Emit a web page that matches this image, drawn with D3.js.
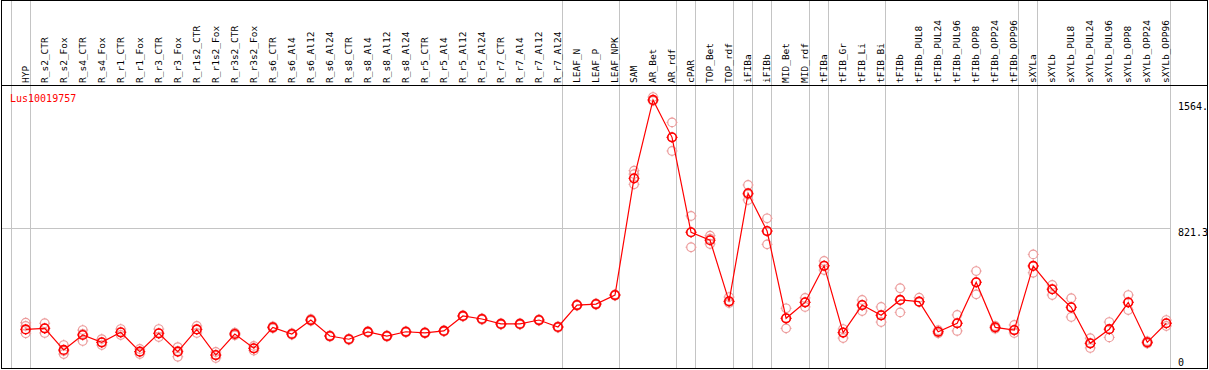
<!DOCTYPE html>
<html lang="en">
  <head>
    <meta charset="UTF-8" />
    <title>Lus10019757</title>
    <script src="https://cdn.jsdelivr.net/npm/d3@7"></script>
    <style>
      body { margin: 0; background: #fff; }
      text { font-family: "DejaVu Sans Mono", monospace; }
    </style>
  </head>
  <body>
    <svg id="chart" width="1209" height="370"></svg>
    <script>
      const categories = ["HYP","R_s2_CTR","R_s2_Fox","R_s4_CTR","R_s4_Fox","R_r1_CTR","R_r1_Fox","R_r3_CTR","R_r3_Fox",
        "R_r1s2_CTR","R_r1s2_Fox","R_r3s2_CTR","R_r3s2_Fox","R_s6_CTR","R_s6_Al4","R_s6_Al12","R_s6_Al24",
        "R_s8_CTR","R_s8_Al4","R_s8_Al12","R_s8_Al24","R_r5_CTR","R_r5_Al4","R_r5_Al12","R_r5_Al24",
        "R_r7_CTR","R_r7_Al4","R_r7_Al12","R_r7_Al24","LEAF_N","LEAF_P","LEAF_NPK","SAM","AR_Bet","AR_rdf",
        "cPAR","TOP_Bet","TOP_rdf","iFIBa","iFIBb","MID_Bet","MID_rdf","tFIBa","tFIB_Gr","tFIB_Li","tFIB_Bi",
        "tFIBb","tFIBb_PUL8","tFIBb_PUL24","tFIBb_PUL96","tFIBb_OPP8","tFIBb_OPP24","tFIBb_OPP96",
        "sXYLa","sXYLb","sXYLb_PUL8","sXYLb_PUL24","sXYLb_PUL96","sXYLb_OPP8","sXYLb_OPP24","sXYLb_OPP96"];

      const means = [227,233,106,194,151,210,96,204,96,227,76,200,116,239,200,282,188,169,212,188,213,207,218,306,288,
        259,259,282,241,370,376,429,1115,1576,1356,798,751,392,1027,805,292,386,601,208,370,310,400,390,213,263,
        504,239,223,600,463,357,145,228,386,151,263];

      const replicates = [[266,247,204],[263,233,206],[135,100,82],[223,200,159],[170,150,135],[229,210,194],[112,96,82],
        [229,204,182],[123,100,66],[247,227,206],[94,76,59],[208,200,192],[130,116,102],[245,239,233],[205,200,195],
        [288,282,276],[192,188,184],[173,169,165],[216,212,208],[192,188,184],[217,213,209],[211,207,203],[222,218,214],
        [310,306,302],[292,288,284],[263,259,255],[263,259,255],[286,282,278],[245,241,237],[374,370,366],[380,376,372],
        [433,429,425],[1160,1140,1080],[1593,1576,1570],[1444,1356,1276],[894,798,710],[778,760,729],[417,392,382],
        [1076,1020,988],[880,805,727],[351,292,233],[412,386,359],[629,601,576],[229,208,176],[400,370,335],[359,310,270],
        [469,400,327],[413,390,388],[222,213,204],[312,263,218],[570,504,433],[247,239,231],[253,223,206],[668,600,560],
        [488,463,429],[410,357,300],[175,145,118],[270,228,180],[429,386,341],[158,151,144],[282,263,247]];

      // index of last category in each group (separator drawn after it)
      const groupEnds = [0,28,31,34,35,37,38,39,41,42,45,52,53,60];
      const yTicks = [0, 821.3, 1564];
      const yTickLabels = ["0", "821.3", "1564."];
      const title = "Lus10019757";

      const svg = d3.select("#chart");
      const plotTop = 85, plotBottom = 368;

      const x = d3.scaleBand().domain(categories).range([10.7, 1170.3]);
      const px = (c) => x(c) + 15;
      const y = d3.scaleLinear().domain([0, 1642.6]).range([plotBottom, 88.6]);

      // vertical separators
      const seps = [x(categories[0])].concat(groupEnds.map((i) => x(categories[i]) + x.bandwidth()));
      svg.append("g").selectAll("line").data(seps).enter().append("line")
        .attr("x1", (d) => Math.round(d) + 0.5).attr("x2", (d) => Math.round(d) + 0.5)
        .attr("y1", 0).attr("y2", plotBottom)
        .attr("stroke", "#c4c4c4");

      // horizontal gridline at mid tick
      svg.append("line")
        .attr("x1", 1).attr("x2", Math.round(seps[seps.length - 1]))
        .attr("y1", Math.round(y(821.3)) + 0.5).attr("y2", Math.round(y(821.3)) + 0.5)
        .attr("stroke", "#c4c4c4");

      // frame
      svg.append("rect").attr("x", 1.5).attr("y", 0.5).attr("width", 1206).attr("height", plotBottom)
        .attr("fill", "none").attr("stroke", "#000");
      svg.append("line").attr("x1", 1).attr("x2", 1208).attr("y1", plotTop + 0.5).attr("y2", plotTop + 0.5)
        .attr("stroke", "#000");

      // category labels
      svg.append("g").selectAll("text").data(categories).enter().append("text")
        .attr("transform", (d) => `translate(${px(d) - 0.5},83) rotate(-90)`)
        .attr("dy", "0.35em")
        .attr("font-size", "9.5px")
        .attr("fill", "#000")
        .text((d) => d);

      // y labels
      svg.append("g").selectAll("text").data(yTicks).enter().append("text")
        .attr("x", 1178)
        .attr("y", (d) => (d === 0 ? 366 : y(d) + 8))
        .attr("font-size", "10px")
        .attr("fill", "#000")
        .text((d, i) => yTickLabels[i]);

      svg.append("text").attr("x", 10).attr("y", 102).attr("font-size", "10px")
        .attr("fill", "#ff0000").text(title);

      const marker = (g, cx, cy, color, w) => {
        const m = g.append("g").attr("transform", `translate(${cx},${cy})`);
        m.append("circle").attr("r", 4.3).attr("fill", "none").attr("stroke", color).attr("stroke-width", w);
        [[0, -4, 0, -5.5], [0, 4, 0, 5.5], [-4, 0, -5.5, 0], [4, 0, 5.5, 0]].forEach((t) => {
          m.append("line").attr("x1", t[0]).attr("y1", t[1]).attr("x2", t[2]).attr("y2", t[3])
            .attr("stroke", color).attr("stroke-width", 1);
        });
      };

      // replicates
      const repG = svg.append("g");
      categories.forEach((c, i) => {
        replicates[i].forEach((v) => marker(repG, px(c), y(v), "#ec9c9c", 1.2));
      });

      // mean line
      const line = d3.line().x((d, i) => px(categories[i])).y((d) => y(d));
      svg.append("path").datum(means).attr("d", line)
        .attr("fill", "none").attr("stroke", "#ff0000").attr("stroke-width", 1.2);

      const meanG = svg.append("g");
      categories.forEach((c, i) => marker(meanG, px(c), y(means[i]), "#ff0000", 1.6));
    </script>
  </body>
</html>
